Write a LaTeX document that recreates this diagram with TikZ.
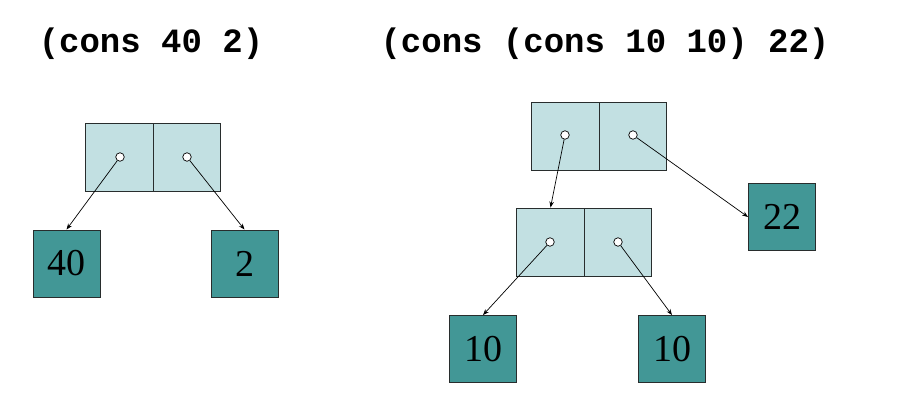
\documentclass[tikz,border=0pt]{standalone}
\usepackage{fontspec}
\setmainfont{Liberation Serif}
\newfontfamily\codefont{Liberation Mono}
\usetikzlibrary{arrows.meta}
\definecolor{cellfill}{RGB}{194,224,226}
\definecolor{atomfill}{RGB}{66,151,150}
\definecolor{edge}{RGB}{40,45,45}
\tikzset{
  cell/.style={draw=edge, line width=0.9pt, fill=cellfill, minimum width=67.5pt, minimum height=68pt, inner sep=0pt},
  atom/.style={draw=edge, line width=0.9pt, fill=atomfill, minimum width=67pt, minimum height=67pt, inner sep=0pt, font=\fontsize{38}{40}\selectfont},
  ptr/.style={draw=black, fill=white, circle, line width=0.7pt, minimum size=8.5pt, inner sep=0pt},
  link/.style={draw=black, line width=0.7pt, -{Stealth[length=6pt,width=4.5pt]}},
  title/.style={anchor=base, font=\codefont\bfseries\fontsize{34}{36}\selectfont}
}
\begin{document}
\begin{tikzpicture}[x=1pt,y=-1pt]
\useasboundingbox (0,0) rectangle (908,404);
% titles
\node[title] (t1) at (151,53) {(cons 40 2)};
\node[title] (t2) at (605,53) {(cons (cons 10 10) 22)};
% left cons
\node[cell] (la) at (119.5,157) {};
\node[cell] (ld) at (187,157) {};
\node[atom] (n40) at (66.5,263.5) {40};
\node[atom] (n2) at (244.5,263.5) {2};
\node[ptr] (pla) at (120,157) {};
\node[ptr] (pld) at (187,157) {};
\draw[link] (pla) -- (n40.north);
\draw[link] (pld) -- (n2.north);
% right outer cons
\node[cell] (ra) at (565.25,136) {};
\node[cell] (rd) at (632.75,136) {};
\node[atom] (n22) at (782,217) {22};
% inner cons
\node[cell] (ia) at (550.5,242) {};
\node[cell] (id) at (618,242) {};
\node[atom] (n10a) at (483,349) {10};
\node[atom] (n10b) at (672,349) {10};
\node[ptr] (pra) at (565,135) {};
\node[ptr] (prd) at (633,135) {};
\node[ptr] (pia) at (550,242) {};
\node[ptr] (pid) at (618,242) {};
\draw[link] (pra) -- (ia.north);
\draw[link] (prd) -- (n22.west);
\draw[link] (pia) -- (n10a.north);
\draw[link] (pid) -- (n10b.north);
\end{tikzpicture}
\end{document}
